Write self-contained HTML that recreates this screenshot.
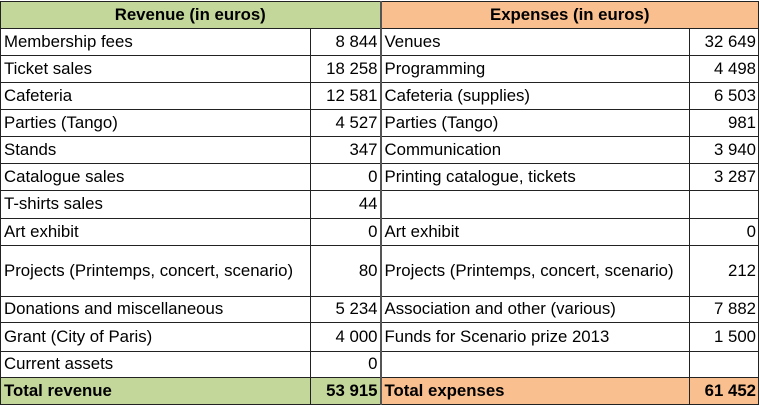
<!DOCTYPE html>
<html><head><meta charset="utf-8"><style>
body{margin:0;width:760px;height:405px;background:#fff;overflow:hidden;font-family:"Liberation Sans",Arial,sans-serif;font-size:16.8px;color:#000}
table{position:absolute;left:0;top:1px;border-collapse:collapse;table-layout:fixed}
td{border:1px solid #222;padding:0 3px;white-space:nowrap;overflow:hidden;line-height:1}
td.n{text-align:right;padding-right:2px}
td.mid{border-right:2px solid #555}
.hg{background:#c4d79b;font-weight:bold;text-align:center}
.ho{background:#fabf8f;font-weight:bold;text-align:center}
.tg{background:#c4d79b;font-weight:bold}
.to{background:#fabf8f;font-weight:bold}
</style></head><body>
<table>
<colgroup><col style="width:310px"><col style="width:70px"><col style="width:309px"><col style="width:69px"></colgroup>
<tr style="height:27px"><td class="hg mid" colspan="2">Revenue (in euros)</td><td class="ho" colspan="2">Expenses (in euros)</td></tr>
<tr style="height:27px"><td>Membership fees</td><td class="n mid">8 844</td><td>Venues</td><td class="n">32 649</td></tr>
<tr style="height:27px"><td>Ticket sales</td><td class="n mid">18 258</td><td>Programming</td><td class="n">4 498</td></tr>
<tr style="height:27px"><td>Cafeteria</td><td class="n mid">12 581</td><td>Cafeteria (supplies)</td><td class="n">6 503</td></tr>
<tr style="height:27px"><td>Parties (Tango)</td><td class="n mid">4 527</td><td>Parties (Tango)</td><td class="n">981</td></tr>
<tr style="height:27px"><td>Stands</td><td class="n mid">347</td><td>Communication</td><td class="n">3 940</td></tr>
<tr style="height:27px"><td>Catalogue sales</td><td class="n mid">0</td><td>Printing catalogue, tickets</td><td class="n">3 287</td></tr>
<tr style="height:28px"><td>T-shirts sales</td><td class="n mid">44</td><td></td><td class="n"></td></tr>
<tr style="height:27px"><td>Art exhibit</td><td class="n mid">0</td><td>Art exhibit</td><td class="n">0</td></tr>
<tr style="height:51px"><td>Projects (Printemps, concert, scenario)</td><td class="n mid">80</td><td>Projects (Printemps, concert, scenario)</td><td class="n">212</td></tr>
<tr style="height:26px"><td>Donations and miscellaneous</td><td class="n mid">5 234</td><td>Association and other (various)</td><td class="n">7 882</td></tr>
<tr style="height:29px"><td>Grant (City of Paris)</td><td class="n mid">4 000</td><td>Funds for Scenario prize 2013</td><td class="n">1 500</td></tr>
<tr style="height:26px"><td>Current assets</td><td class="n mid">0</td><td></td><td class="n"></td></tr>
<tr style="height:27px"><td class="tg">Total revenue</td><td class="n tg mid">53 915</td><td class="to">Total expenses</td><td class="n to">61 452</td></tr>
</table>
</body></html>
